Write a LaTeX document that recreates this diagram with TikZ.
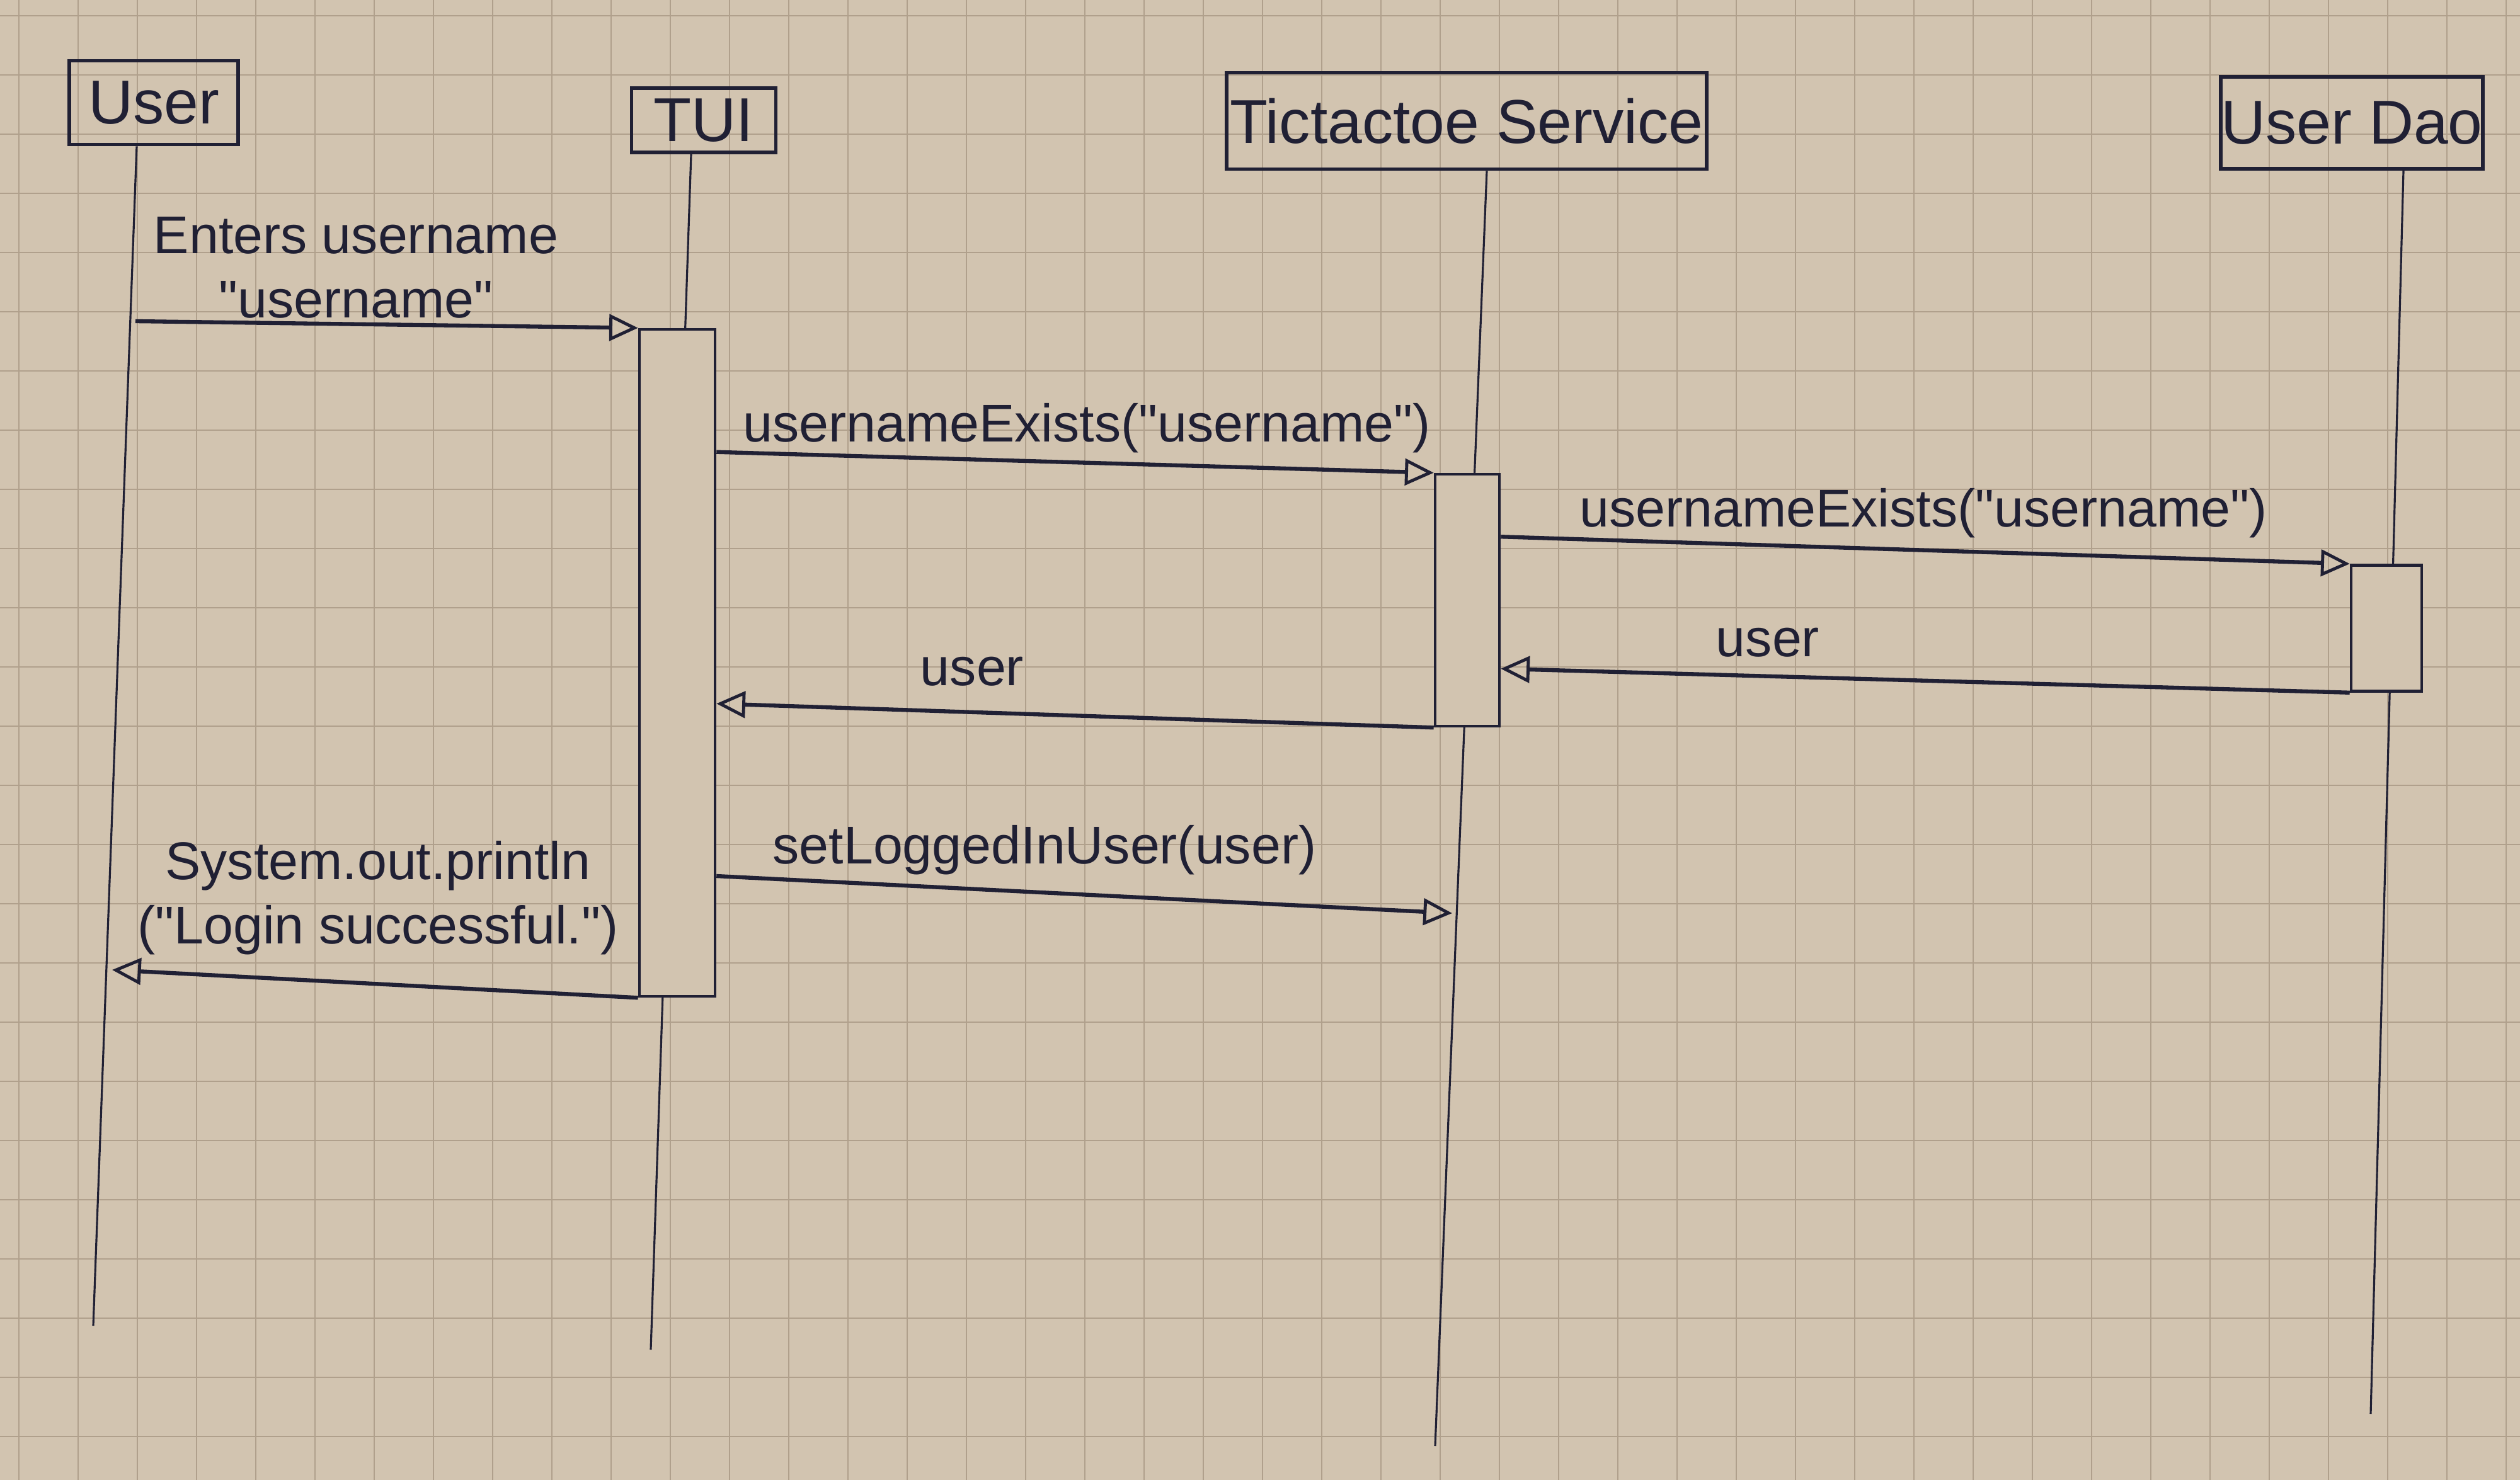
\documentclass[tikz,border=0pt]{standalone}
\usepackage{fontspec}
\setmainfont{Liberation Sans}
\usetikzlibrary{arrows.meta}

\definecolor{paper}{RGB}{210,196,176}
\definecolor{gridbrown}{RGB}{176,160,140}
\definecolor{ink}{RGB}{32,32,52}

\newcommand{\qt}[1]{\textquotedbl#1\textquotedbl}

\tikzset{
  head/.style={draw=ink, line width=1.6pt, text=ink, inner sep=0pt,
    font=\fontsize{28}{32}\selectfont},
  act/.style={draw=ink, line width=1.3pt, fill=paper, inner sep=0pt},
  lifeline/.style={ink, line width=0.9pt},
  msg/.style={ink, line width=1.8pt,
    -{Triangle[open, length=13pt, width=12pt, line width=1.4pt]}},
  lbl/.style={text=ink, inner sep=0pt, align=center,
    font=\fontsize{24}{29}\selectfont}
}

\begin{document}
\begin{tikzpicture}

    % Paper and grid
    \useasboundingbox (0,0) rectangle (40,-23.5);
    \begin{scope}
        \clip (0,0) rectangle (40,-23.5);
        \fill[paper] (0,0) rectangle (40,-23.5);
        \draw[step=0.94, gridbrown, line width=0.8pt, xshift=0.3cm, yshift=-0.25cm]
            (-1,-24) grid (41,1);
    \end{scope}

    % Participants
    \node[head, minimum width=2.68cm, minimum height=1.33cm] (user) at (2.44,-1.63) {User};
    \node[head, minimum width=2.29cm, minimum height=1.02cm] (tui) at (11.17,-1.91) {TUI};
    \node[head, minimum width=7.62cm, minimum height=1.53cm] (service) at (23.28,-1.92) {Tictactoe Service};
    \node[head, minimum width=4.16cm, minimum height=1.46cm] (dao) at (37.33,-1.95) {User Dao};

    % Lifeline ends
    \coordinate (userend) at (1.48,-21.05);
    \coordinate (tuiend) at (10.33,-21.43);
    \coordinate (serviceend) at (22.78,-22.96);
    \coordinate (daoend) at (37.63,-22.45);

    % Lifelines
    \draw[lifeline] ([xshift=-0.27cm]user.south) -- (userend);
    \draw[lifeline] ([xshift=-0.2cm]tui.south) -- (tuiend);
    \draw[lifeline] ([xshift=0.32cm]service.south) -- (serviceend);
    \draw[lifeline] ([xshift=0.82cm]dao.south) -- (daoend);

    % Activation boxes
    \node[act, minimum width=1.2cm, minimum height=10.59cm] (tuiact) at (10.75,-10.525) {};
    \node[act, minimum width=1.02cm, minimum height=4.0cm] (serviceact) at (23.29,-9.53) {};
    \node[act, minimum width=1.12cm, minimum height=2.0cm] (daoact) at (37.88,-9.975) {};

    % Free ends on the lifelines
    \coordinate (enterstart) at (2.15,-5.1);
    \coordinate (loggedend) at (23.05,-14.5);
    \coordinate (printend) at (1.78,-15.4);

    % Messages
    \draw[msg] (enterstart) -- (tuiact.north west);
    \draw[msg] ([yshift=0.33cm]serviceact.north west -| tuiact.east) -- (serviceact.north west);
    \draw[msg] ([yshift=0.43cm]daoact.north west -| serviceact.east) -- (daoact.north west);
    \draw[msg] (daoact.south west) -- ([yshift=0.38cm]daoact.south west -| serviceact.east);
    \draw[msg] (serviceact.south west) -- ([yshift=0.38cm]serviceact.south west -| tuiact.east);
    \draw[msg] ([yshift=0.59cm]tuiact.east |- loggedend) -- (loggedend);
    \draw[msg] (tuiact.south west) -- (printend);

    % Message labels
    \node[lbl] (enterlbl) at (5.65,-4.25) {Enters username\\\qt{username}};
    \node[lbl] (existslbl) at (17.25,-6.8) {usernameExists(\qt{username})};
    \node[lbl] (daoexistslbl) at (30.53,-8.15) {usernameExists(\qt{username})};
    \node[lbl] (daouserlbl) at (28.06,-10.2) {user};
    \node[lbl] (serviceuserlbl) at (15.43,-10.66) {user};
    \node[lbl] (loggedlbl) at (16.58,-13.5) {setLoggedInUser(user)};
    \node[lbl] (printlbl) at (6.0,-14.26) {System.out.println\\(\qt{Login successful.})};

\end{tikzpicture}
\end{document}
